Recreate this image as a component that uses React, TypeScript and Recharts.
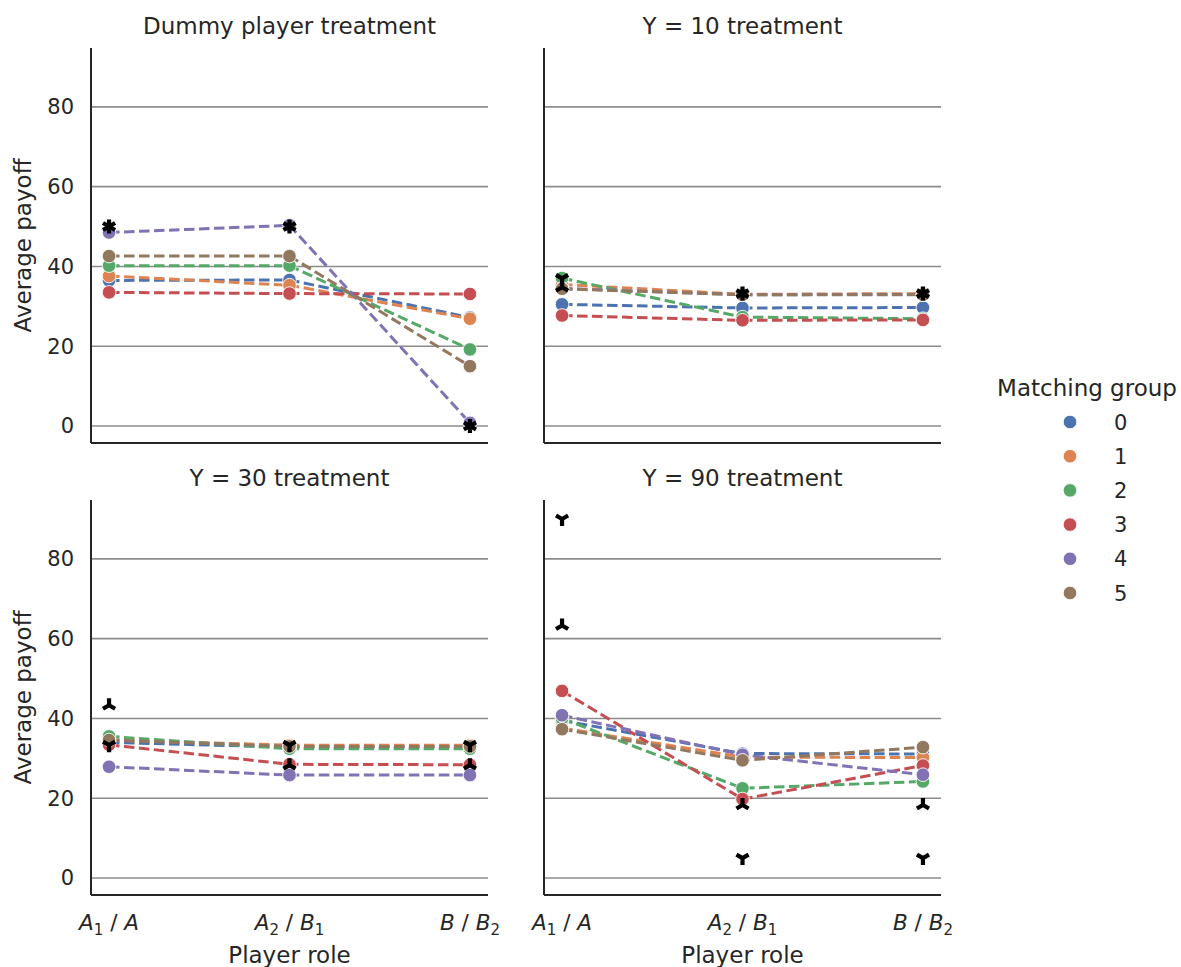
import React from 'react';
import { ComposedChart, Line, XAxis, YAxis, ReferenceLine } from 'recharts';

// player roles on the x axis ("_" marks a subscript)
const roleLabels = ['A_1 / A', 'A_2 / B_1', 'B / B_2'];
const groupNames = ['0', '1', '2', '3', '4', '5'];
const groupColors = ['#4C72B0', '#DD8452', '#55A868', '#C44E52', '#8172B3', '#937860'];
const yTicks = [0, 20, 40, 60, 80];

// average payoff: one row per matching group, one column per role
const dummyPayoff = [
  [36.5, 36.6, 27.2],
  [37.6, 35.3, 26.9],
  [40.2, 40.2, 19.2],
  [33.5, 33.2, 33.1],
  [48.5, 50.3, 0.8],
  [42.6, 42.6, 15.0],
];
const dummyPredDown = [50, 50, 0];
const dummyPredUp = [50, 50, 0];

const y10Payoff = [
  [30.5, 29.6, 29.7],
  [35.5, 33.0, 33.2],
  [37.1, 27.3, 26.9],
  [27.7, 26.5, 26.6],
  [34.5, 32.9, 33.0],
  [34.4, 32.9, 32.9],
];
const y10PredDown = [37.0, 33.2, 33.2];
const y10PredUp = [34.8, 33.2, 33.2];

const y30Payoff = [
  [34.0, 32.8, 32.9],
  [34.6, 33.3, 33.3],
  [35.5, 32.4, 32.4],
  [33.4, 28.5, 28.4],
  [27.9, 25.8, 25.8],
  [34.6, 33.0, 33.0],
];
const y30PredDown = [33.3, 33.3, 33.3];
const y30PredUp = [43.3, 28.3, 28.3];

const y90Payoff = [
  [39.5, 31.2, 31.1],
  [37.6, 30.3, 30.2],
  [40.0, 22.5, 24.2],
  [46.9, 19.8, 28.2],
  [40.8, 30.9, 25.9],
  [37.3, 29.5, 32.8],
];
const y90PredDown = [90, 5, 5];
const y90PredUp = [63.3, 18.3, 18.3];

const TEXT = '#262626';
const FONT = 'DejaVu Sans';

const renderDot = (color: string) => (props: any) => {
  const { cx, cy, index } = props;
  return <circle key={`dot-${color}-${index}`} cx={cx} cy={cy} r={6.8} fill={color} stroke="#fff" strokeWidth={0.9} />;
};

const renderTri = (kind: 'down' | 'up') => (props: any) => {
  const { cx, cy, index } = props;
  const r = 7;
  const s = kind === 'down' ? 1 : -1;
  const d = `M${cx},${cy} L${cx},${cy + s * r} M${cx},${cy} L${cx - 0.866 * r},${cy - s * 0.5 * r} M${cx},${cy} L${cx + 0.866 * r},${cy - s * 0.5 * r}`;
  return <path key={`tri-${kind}-${index}`} d={d} stroke="#000" strokeWidth={4.2} fill="none" />;
};

const RoleTick = (props: any) => {
  const { x, y, payload } = props;
  const parts = roleLabels[payload.value].split(' / ');
  const spans: React.ReactNode[] = [];
  let lowered = false;
  parts.forEach((p, k) => {
    const [letter, sub] = p.split('_');
    if (k > 0) {
      spans.push(<tspan key={`s${k}`} dy={lowered ? -5 : 0}>{' / '}</tspan>);
      lowered = false;
    }
    spans.push(<tspan key={`l${k}`} fontStyle="italic">{letter}</tspan>);
    if (sub) {
      spans.push(<tspan key={`b${k}`} dy={5} fontSize={15}>{sub}</tspan>);
      lowered = true;
    }
  });
  return (
    <text x={x} y={y + 27} textAnchor="middle" fontSize={21.5} fill={TEXT} fontFamily={FONT}>
      {spans}
    </text>
  );
};

function Panel({ payoff, predDown, predUp, left, top, bottomRow, firstCol }: any) {
  const data = roleLabels.map((_, i) => {
    const row: any = { x: i, down: predDown[i], up: predUp[i] };
    payoff.forEach((vals: number[], g: number) => {
      row['g' + g] = vals[i];
    });
    return row;
  });
  const height = bottomRow ? 515 : 460;
  return (
    <div style={{ position: 'absolute', left, top }}>
      <ComposedChart width={530} height={height} data={data} margin={{ top: 48, right: 42, left: 0, bottom: 0 }}>
        <XAxis
          type="number"
          dataKey="x"
          domain={[-0.1, 2.1]}
          ticks={[0, 1, 2]}
          height={bottomRow ? 72 : 17}
          tickLine={false}
          axisLine={{ stroke: TEXT, strokeWidth: 2 }}
          tick={bottomRow ? <RoleTick /> : false}
        />
        <YAxis
          type="number"
          domain={[-4.25, 94.75]}
          ticks={yTicks}
          allowDataOverflow
          width={91}
          tickLine={false}
          tickMargin={11}
          axisLine={{ stroke: TEXT, strokeWidth: 2 }}
          tick={firstCol ? { fontSize: 21, fill: TEXT, fontFamily: FONT } : false}
        />
        {yTicks.map((v) => (
          <ReferenceLine key={v} y={v} stroke="#8c8c8c" strokeWidth={1.6} />
        ))}
        {groupColors.map((c, g) => (
          <Line
            key={g}
            dataKey={'g' + g}
            stroke={c}
            strokeWidth={3}
            strokeDasharray="10.5 4.5"
            dot={renderDot(c)}
            activeDot={false}
            isAnimationActive={false}
          />
        ))}
        <Line dataKey="down" stroke="none" dot={renderTri('down')} activeDot={false} isAnimationActive={false} />
        <Line dataKey="up" stroke="none" dot={renderTri('up')} activeDot={false} isAnimationActive={false} />
      </ComposedChart>
    </div>
  );
}

export default function App() {
  const titles = [
    { text: 'Dummy player treatment', x: 289.5, y: 34 },
    { text: 'Y = 10 treatment', x: 742.5, y: 34 },
    { text: 'Y = 30 treatment', x: 289.5, y: 486 },
    { text: 'Y = 90 treatment', x: 742.5, y: 486 },
  ];
  return (
    <div style={{ position: 'absolute', left: 0, top: 0, width: 1181, height: 967, background: '#fff', fontFamily: FONT }}>
      <Panel payoff={dummyPayoff} predDown={dummyPredDown} predUp={dummyPredUp} left={0} top={0} bottomRow={false} firstCol />
      <Panel payoff={y10Payoff} predDown={y10PredDown} predUp={y10PredUp} left={453} top={0} bottomRow={false} firstCol={false} />
      <Panel payoff={y30Payoff} predDown={y30PredDown} predUp={y30PredUp} left={0} top={452} bottomRow firstCol />
      <Panel payoff={y90Payoff} predDown={y90PredDown} predUp={y90PredUp} left={453} top={452} bottomRow firstCol={false} />
      <svg width={1181} height={967} style={{ position: 'absolute', left: 0, top: 0, pointerEvents: 'none' }} fontFamily={FONT}>
        {titles.map((t) => (
          <text key={t.text} x={t.x} y={t.y} textAnchor="middle" fontSize={23} fill={TEXT}>
            {t.text}
          </text>
        ))}
        <text transform="translate(31,245.5) rotate(-90)" textAnchor="middle" fontSize={23} fill={TEXT}>Average payoff</text>
        <text transform="translate(31,697.5) rotate(-90)" textAnchor="middle" fontSize={23} fill={TEXT}>Average payoff</text>
        <text x={289.5} y={963} textAnchor="middle" fontSize={23} fill={TEXT}>Player role</text>
        <text x={742.5} y={963} textAnchor="middle" fontSize={23} fill={TEXT}>Player role</text>
        <text x={1087} y={396} textAnchor="middle" fontSize={23} fill={TEXT}>Matching group</text>
        {groupNames.map((n, i) => (
          <g key={n}>
            <circle cx={1070} cy={422 + 34.2 * i} r={6.8} fill={groupColors[i]} stroke="#fff" strokeWidth={0.9} />
            <text x={1114} y={429.6 + 34.2 * i} fontSize={21} fill={TEXT}>{n}</text>
          </g>
        ))}
      </svg>
    </div>
  );
}
